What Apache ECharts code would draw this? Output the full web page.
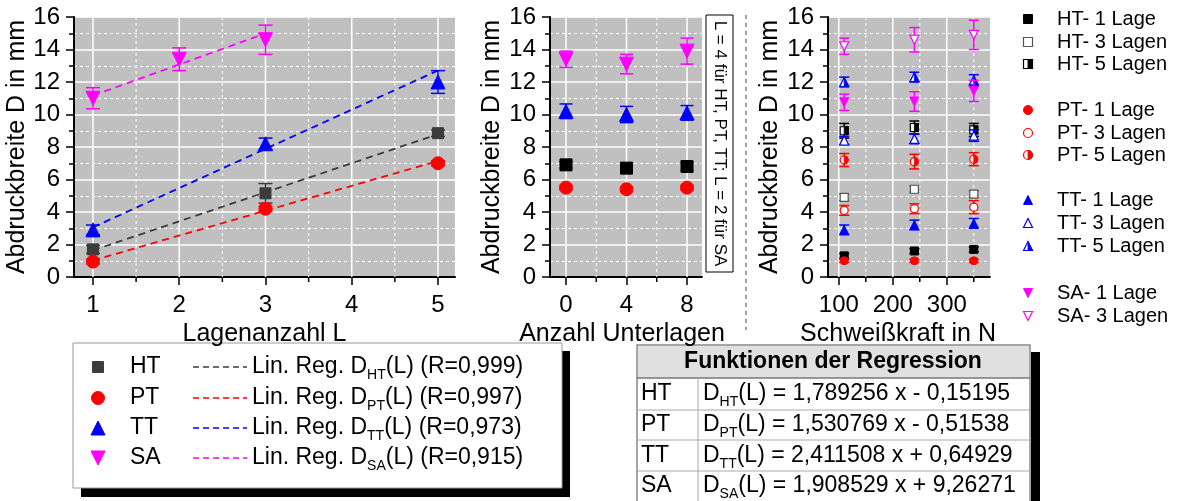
<!DOCTYPE html>
<html><head><meta charset="utf-8">
<script src="https://cdn.jsdelivr.net/npm/echarts@6/dist/echarts.min.js"></script>
<style>html,body{margin:0;padding:0;background:#fff}#c{width:1177px;height:501px}</style>
</head><body><div id="c"></div>
<script>
// ================= DATA =================
// Left plot: Lagenanzahl L
const lagenX = [1, 3, 5];
const lagenXSA = [1, 2, 3];
const leftHT = [1.7, 5.15, 8.85];   const leftHTErr = [0.25, 0.6, 0.2];
const leftPT = [0.95, 4.2, 7.0];    const leftPTErr = [0.15, 0.15, 0.15];
const leftTT = [2.9, 8.2, 12.0];    const leftTTErr = [0.3, 0.35, 0.7];
const leftSA = [11.0, 13.4, 14.6];  const leftSAErr = [0.65, 0.7, 0.9];
// regression line end points (from the regression functions)
const regHT = [[1, 1.64], [5, 8.79]];
const regPT = [[1, 1.02], [5, 7.14]];
const regTT = [[1, 3.06], [5, 12.71]];
const regSA = [[1, 11.17], [3, 14.99]];

// Middle plot: Anzahl Unterlagen
const unterX = [0, 4, 8];
const midHT = [6.9, 6.7, 6.8];      const midHTErr = [0.2, 0.2, 0.25];
const midPT = [5.5, 5.4, 5.5];      const midPTErr = [0.15, 0.15, 0.15];
const midTT = [10.2, 10.0, 10.1];   const midTTErr = [0.45, 0.5, 0.45];
const midSA = [13.4, 13.1, 13.9];   const midSAErr = [0.5, 0.6, 0.8];

// Right plot: Schweißkraft in N
const kraftX = [110, 240, 350];
const ht1 = [1.3, 1.6, 1.7];     const ht1Err = [0.15, 0.15, 0.15];
const ht3 = [4.9, 5.4, 5.1];     const ht3Err = [0.2, 0.2, 0.2];
const ht5 = [9.0, 9.2, 9.05];    const ht5Err = [0.45, 0.4, 0.4];
const pt1 = [1.0, 1.0, 1.0];     const pt1Err = [0.1, 0.1, 0.1];
const pt3 = [4.1, 4.2, 4.3];     const pt3Err = [0.3, 0.3, 0.4];
const pt5 = [7.2, 7.1, 7.25];    const pt5Err = [0.4, 0.45, 0.4];
const tt1 = [2.9, 3.2, 3.3];     const tt1Err = [0.3, 0.3, 0.3];
const tt3 = [8.4, 8.5, 8.7];     const tt3Err = [0.25, 0.3, 0.35];
const tt5 = [12.0, 12.3, 12.1];  const tt5Err = [0.3, 0.3, 0.35];
const sa1 = [10.75, 10.8, 11.45];const sa1Err = [0.5, 0.6, 0.65];
const sa3 = [14.2, 14.6, 14.9];  const sa3Err = [0.5, 0.75, 0.9];

// Tick values
const leftMajor = [1, 2, 3, 4, 5];       const leftMinor = [1.5, 2.5, 3.5, 4.5];
const midMajor = [0, 4, 8];              const midMinor = [2, 6];
const rightMajor = [100, 200, 300];      const rightMinor = [150, 250, 350];

// Texts
const yName = 'Abdruckbreite D in mm';
const xNames = ['Lagenanzahl L', 'Anzahl Unterlagen', 'Schweißkraft in N'];
const noteText = 'L = 4 für HT, PT, TT; L = 2 für SA';
const groupNames = ['HT', 'PT', 'TT', 'SA'];
const rValues = ['0,999', '0,997', '0,973', '0,915'];
const regFormulas = ['1,789256 x - 0,15195', '1,530769 x - 0,51538', '2,411508 x + 0,64929', '1,908529 x + 9,26271'];
const tableTitle = 'Funktionen der Regression';
const rightLegend = ['HT- 1 Lage', 'HT- 3 Lagen', 'HT- 5 Lagen', 'PT- 1 Lage', 'PT- 3 Lagen', 'PT- 5 Lagen',
  'TT- 1 Lage', 'TT- 3 Lagen', 'TT- 5 Lagen', 'SA- 1 Lage', 'SA- 3 Lagen'];

// ================= STYLE =================
const F = '"Liberation Sans", Arial, sans-serif';
const COL = { HTg: '#3c3c3c', HT: '#000000', PT: '#ff0000', TT: '#0000ff', SA: '#ff00ff' };

function shapeEls(shape, fill, cx, cy, s, color) {
  const h = s / 2;
  let main, half;
  if (shape === 'square') {
    main = { type: 'rect', shape: { x: cx - h, y: cy - h, width: s, height: s } };
    half = { type: 'rect', shape: { x: cx, y: cy - h, width: h, height: s } };
  } else if (shape === 'circle') {
    main = { type: 'circle', shape: { cx: cx, cy: cy, r: h } };
    half = { type: 'sector', shape: { cx: cx, cy: cy, r0: 0, r: h, startAngle: -Math.PI / 2, endAngle: Math.PI / 2, clockwise: true } };
  } else if (shape === 'triUp') {
    main = { type: 'polygon', shape: { points: [[cx, cy - h], [cx + h, cy + h], [cx - h, cy + h]] } };
    half = { type: 'polygon', shape: { points: [[cx, cy - h], [cx + h, cy + h], [cx, cy + h]] } };
  } else {
    main = { type: 'polygon', shape: { points: [[cx - h, cy - h], [cx + h, cy - h], [cx, cy + h]] } };
    half = { type: 'polygon', shape: { points: [[cx, cy - h], [cx + h, cy - h], [cx, cy + h]] } };
  }
  main.style = fill === 'full' ? { fill: color, stroke: color, lineWidth: 1 } : { fill: '#fff', stroke: color, lineWidth: 1.2 };
  const out = [main];
  if (fill === 'half') { half.style = { fill: color, stroke: color, lineWidth: 0.8 }; out.push(half); }
  return out;
}

function markerSeries(gi, xs, ys, errs, st) {
  return {
    type: 'custom', xAxisIndex: gi, yAxisIndex: gi, z: 4, silent: true,
    data: xs.map((x, i) => [x, ys[i], errs[i]]),
    renderItem: function (params, api) {
      const x = api.value(0), y = api.value(1), e = api.value(2);
      const p = api.coord([x, y]), a = api.coord([x, y + e]), b = api.coord([x, y - e]);
      const w = st.cap / 2, ls = { stroke: st.color, lineWidth: 1.5 };
      const ch = [
        { type: 'line', shape: { x1: p[0], y1: a[1], x2: p[0], y2: b[1] }, style: ls },
        { type: 'line', shape: { x1: p[0] - w, y1: a[1], x2: p[0] + w, y2: a[1] }, style: ls },
        { type: 'line', shape: { x1: p[0] - w, y1: b[1], x2: p[0] + w, y2: b[1] }, style: ls }
      ].concat(shapeEls(st.shape, st.fill, p[0], p[1], st.size, st.color));
      return { type: 'group', children: ch };
    }
  };
}

function decoSeries(gi, majors, minors) {
  return {
    type: 'custom', xAxisIndex: gi, yAxisIndex: gi, z: 1, silent: true,
    data: majors.map(v => [v, 0]).concat(minors.map(v => [v, 1])),
    renderItem: function (params, api) {
      const v = api.value(0), minor = api.value(1) === 1;
      const t = api.coord([v, 16]), b = api.coord([v, 0]);
      const ch = [{ type: 'line', shape: { x1: t[0], y1: t[1], x2: b[0], y2: b[1] },
        style: { stroke: '#ffffff', lineWidth: minor ? 1 : 1.5, lineDash: minor ? [3, 3] : null } }];
      if (minor) ch.push({ type: 'line', shape: { x1: b[0], y1: b[1], x2: b[0], y2: b[1] + 5 }, style: { stroke: '#000', lineWidth: 1.5 } });
      return { type: 'group', children: ch };
    }
  };
}

function regSeries(data, color) {
  return { type: 'line', xAxisIndex: 0, yAxisIndex: 0, data: data, symbol: 'none', z: 3, silent: true,
    lineStyle: { color: color, width: 1.8, type: [7, 5] } };
}

const nameGaps = [40, 45, 45];
function yAx(gi) {
  return {
    type: 'value', gridIndex: gi, min: 0, max: 16, interval: 2,
    name: yName, nameLocation: 'middle', nameGap: nameGaps[gi],
    nameTextStyle: { fontSize: 25, color: '#000', fontFamily: F },
    axisLine: { show: true, onZero: false, lineStyle: { color: '#000', width: 2 } },
    axisTick: { show: true, length: 8, lineStyle: { color: '#000', width: 1.5 } },
    minorTick: { show: true, splitNumber: 2, length: 5, lineStyle: { color: '#000', width: 1.5 } },
    axisLabel: { fontSize: 24, color: '#000', margin: 14, fontFamily: F },
    splitLine: { show: true, lineStyle: { color: '#fff', width: 1.5 } },
    minorSplitLine: { show: true, lineStyle: { color: '#fff', width: 1, type: [3, 3] } }
  };
}
function xAx(gi, min, max, ticks, pad) {
  return {
    type: 'value', gridIndex: gi, min: min, max: max,
    name: xNames[gi], nameLocation: 'middle', nameGap: 33,
    nameTextStyle: { fontSize: 25, color: '#000', fontFamily: F, padding: pad },
    axisLine: { show: true, onZero: false, lineStyle: { color: '#000', width: 2 } },
    axisTick: { show: true, customValues: ticks, length: 8, lineStyle: { color: '#000', width: 1.5 } },
    axisLabel: { customValues: ticks, fontSize: 24, color: '#000', margin: 16, fontFamily: F },
    splitLine: { show: false }, minorTick: { show: false }, minorSplitLine: { show: false }
  };
}

// ================= GRAPHICS (legends, table, note) =================
const g = [];
// separator
g.push({ type: 'line', shape: { x1: 746, y1: 15, x2: 746, y2: 330 }, style: { stroke: '#444', lineWidth: 1, lineDash: [4, 4] } });
// note box
g.push({ type: 'rect', shape: { x: 706, y: 15, width: 27, height: 257 }, style: { fill: '#fff', stroke: '#000', lineWidth: 1 } });
g.push({ type: 'text', x: 719.5, y: 143.5, rotation: -Math.PI / 2,
  style: { text: noteText, font: '17px ' + F, fill: '#000', align: 'center', verticalAlign: 'middle' } });

// right legend
const rlY = [19, 42, 64, 110, 133, 155, 200, 223, 246, 293, 316];
const rlShape = ['square', 'square', 'square', 'circle', 'circle', 'circle', 'triUp', 'triUp', 'triUp', 'triDown', 'triDown'];
const rlFill = ['full', 'open', 'half', 'full', 'open', 'half', 'full', 'open', 'half', 'full', 'open'];
const rlCol = [COL.HT, '#555', COL.HT, COL.PT, COL.PT, COL.PT, COL.TT, COL.TT, COL.TT, COL.SA, COL.SA];
rightLegend.forEach((t, i) => {
  g.push({ type: 'group', children: shapeEls(rlShape[i], rlFill[i], 1028, rlY[i], 9, rlCol[i]) });
  g.push({ type: 'text', x: 1057, y: rlY[i], style: { text: t, font: '20px ' + F, fill: '#000', align: 'left', verticalAlign: 'middle' } });
});

// bottom-left legend box
g.push({ type: 'rect', shape: { x: 81, y: 351, width: 489, height: 146 }, style: { fill: '#000' } });
g.push({ type: 'rect', shape: { x: 73, y: 343, width: 489, height: 145 }, style: { fill: '#fff', stroke: '#999', lineWidth: 1 } });
const blY = [367, 398, 428, 458];
const blShape = ['square', 'circle', 'triUp', 'triDown'];
const blSize = [11, 13, 14, 14];
const blCol = [COL.HTg, COL.PT, COL.TT, COL.SA];
const richStyles = {
  n: { fontSize: 23, fontFamily: F, lineHeight: 30, fill: '#000' },
  s: { fontSize: 14, fontFamily: F, lineHeight: 14, fill: '#000', verticalAlign: 'bottom' }
};
groupNames.forEach((nm, i) => {
  g.push({ type: 'group', children: shapeEls(blShape[i], 'full', 98, blY[i], blSize[i], blCol[i]) });
  g.push({ type: 'text', x: 130, y: blY[i], style: { text: nm, font: '23px ' + F, fill: '#000', align: 'left', verticalAlign: 'middle' } });
  g.push({ type: 'line', shape: { x1: 193, y1: blY[i], x2: 247, y2: blY[i] }, style: { stroke: blCol[i], lineWidth: 1.5, lineDash: [6, 4] } });
  g.push({ type: 'text', x: 252, y: blY[i], style: {
    text: '{n|Lin. Reg. D}{s|' + nm + '}{n|(L) (R=' + rValues[i] + ')}',
    rich: richStyles, align: 'left', verticalAlign: 'middle' } });
});

// table
g.push({ type: 'rect', shape: { x: 1031, y: 352, width: 9, height: 149 }, style: { fill: '#000' } });
g.push({ type: 'rect', shape: { x: 637, y: 345, width: 393, height: 165 }, style: { fill: '#fff', stroke: '#888', lineWidth: 1.5 } });
g.push({ type: 'rect', shape: { x: 638, y: 346, width: 391, height: 32 }, style: { fill: '#e0e0e0' } });
g.push({ type: 'line', shape: { x1: 637, y1: 378, x2: 1030, y2: 378 }, style: { stroke: '#777', lineWidth: 1.5 } });
[410, 440, 471].forEach(y => g.push({ type: 'line', shape: { x1: 637, y1: y, x2: 1030, y2: y }, style: { stroke: '#aaa', lineWidth: 1 } }));
g.push({ type: 'line', shape: { x1: 698, y1: 378, x2: 698, y2: 501 }, style: { stroke: '#aaa', lineWidth: 1 } });
g.push({ type: 'text', x: 833, y: 362, style: { text: tableTitle, font: 'bold 23px ' + F, fill: '#000', align: 'center', verticalAlign: 'middle' } });
const tbY = [394, 425, 456, 486];
groupNames.forEach((nm, i) => {
  g.push({ type: 'text', x: 641, y: tbY[i], style: { text: nm, font: '23px ' + F, fill: '#000', align: 'left', verticalAlign: 'middle' } });
  g.push({ type: 'text', x: 703, y: tbY[i], style: {
    text: '{n|D}{s|' + nm + '}{n|(L) = ' + regFormulas[i] + '}',
    rich: richStyles, align: 'left', verticalAlign: 'middle' } });
});

// ================= CHART =================
const small = 8;
const option = {
  animation: false,
  backgroundColor: '#fff',
  textStyle: { fontFamily: F },
  grid: [
    { left: 74, top: 17, width: 381, height: 260, show: true, backgroundColor: '#c0c0c0', borderWidth: 0 },
    { left: 550, top: 17, width: 152, height: 260, show: true, backgroundColor: '#c0c0c0', borderWidth: 0 },
    { left: 828, top: 17, width: 162, height: 260, show: true, backgroundColor: '#c0c0c0', borderWidth: 0 }
  ],
  xAxis: [
    xAx(0, 0.78, 5.197, leftMajor, [0, 0, 0, 0]),
    xAx(1, -1.058, 8.99, midMajor, [0, 8, 0, 0]),
    xAx(2, 80, 380, rightMajor, [0, 22, 0, 0])
  ],
  yAxis: [yAx(0), yAx(1), yAx(2)],
  series: [
    decoSeries(0, leftMajor, leftMinor),
    decoSeries(1, midMajor, midMinor),
    decoSeries(2, rightMajor, rightMinor),
    regSeries(regHT, COL.HTg), regSeries(regPT, COL.PT), regSeries(regTT, COL.TT), regSeries(regSA, COL.SA),
    markerSeries(0, lagenX, leftHT, leftHTErr, { shape: 'square', fill: 'full', size: 11, cap: 14, color: COL.HTg }),
    markerSeries(0, lagenX, leftPT, leftPTErr, { shape: 'circle', fill: 'full', size: 13, cap: 14, color: COL.PT }),
    markerSeries(0, lagenX, leftTT, leftTTErr, { shape: 'triUp', fill: 'full', size: 14, cap: 14, color: COL.TT }),
    markerSeries(0, lagenXSA, leftSA, leftSAErr, { shape: 'triDown', fill: 'full', size: 14, cap: 14, color: COL.SA }),
    markerSeries(1, unterX, midHT, midHTErr, { shape: 'square', fill: 'full', size: 12, cap: 13, color: COL.HT }),
    markerSeries(1, unterX, midPT, midPTErr, { shape: 'circle', fill: 'full', size: 13, cap: 13, color: COL.PT }),
    markerSeries(1, unterX, midTT, midTTErr, { shape: 'triUp', fill: 'full', size: 14, cap: 13, color: COL.TT }),
    markerSeries(1, unterX, midSA, midSAErr, { shape: 'triDown', fill: 'full', size: 14, cap: 13, color: COL.SA }),
    markerSeries(2, kraftX, ht1, ht1Err, { shape: 'square', fill: 'full', size: small, cap: 10, color: COL.HT }),
    markerSeries(2, kraftX, ht3, ht3Err, { shape: 'square', fill: 'open', size: small, cap: 10, color: '#555' }),
    markerSeries(2, kraftX, ht5, ht5Err, { shape: 'square', fill: 'half', size: small, cap: 10, color: COL.HT }),
    markerSeries(2, kraftX, pt1, pt1Err, { shape: 'circle', fill: 'full', size: small, cap: 10, color: COL.PT }),
    markerSeries(2, kraftX, pt3, pt3Err, { shape: 'circle', fill: 'open', size: small, cap: 10, color: COL.PT }),
    markerSeries(2, kraftX, pt5, pt5Err, { shape: 'circle', fill: 'half', size: small, cap: 10, color: COL.PT }),
    markerSeries(2, kraftX, tt1, tt1Err, { shape: 'triUp', fill: 'full', size: 9, cap: 10, color: COL.TT }),
    markerSeries(2, kraftX, tt3, tt3Err, { shape: 'triUp', fill: 'open', size: 9, cap: 10, color: COL.TT }),
    markerSeries(2, kraftX, tt5, tt5Err, { shape: 'triUp', fill: 'half', size: 9, cap: 10, color: COL.TT }),
    markerSeries(2, kraftX, sa1, sa1Err, { shape: 'triDown', fill: 'full', size: 9, cap: 10, color: COL.SA }),
    markerSeries(2, kraftX, sa3, sa3Err, { shape: 'triDown', fill: 'open', size: 9, cap: 10, color: COL.SA })
  ],
  graphic: { elements: g }
};
const chart = echarts.init(document.getElementById('c'), null, { renderer: 'canvas' });
chart.setOption(option);
</script>
</body></html>
